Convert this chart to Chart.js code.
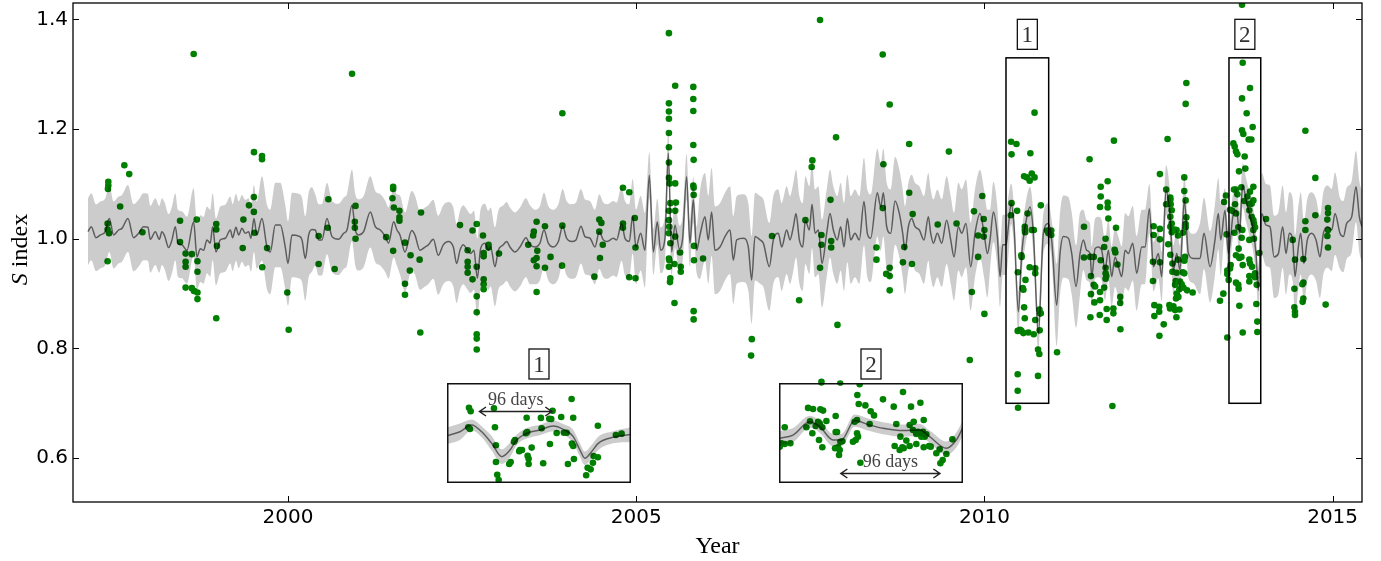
<!DOCTYPE html>
<html>
<head>
<meta charset="utf-8">
<script src="https://cdn.jsdelivr.net/npm/chart.js@4.4.1/dist/chart.umd.min.js"></script>
<style>
  html, body { margin: 0; padding: 0; background: #fff; }
  #wrap { position: relative; width: 1381px; height: 561px; }
  #main { position: absolute; left: 0; top: 0; }
  .inset { position: absolute; background: #fff; }
</style>
</head>
<body>
<div id="wrap">
  <canvas id="main" width="1381" height="561"></canvas>
  <canvas id="inset1" class="inset" width="184" height="100" style="left:447px;top:383px"></canvas>
  <canvas id="inset2" class="inset" width="184" height="100" style="left:779px;top:383px"></canvas>
</div>
<script>
// ---- axes ----
const xTicks = [2000, 2005, 2010, 2015];
const yTicks = [0.6, 0.8, 1.0, 1.2, 1.4];
const xRange = [1996.913, 2015.422];
const yRange = [0.520, 1.430];

// ---- S-index observations, [year, S] ----
const obs1997to2000 = [
  [1998.646,1.337],[1999.512,1.158],[1999.627,1.151],[1999.627,1.145],[1997.650,1.134],[1997.720,1.118],
  [1997.420,1.104],[1997.420,1.097],[1997.415,1.091],[1999.510,1.076],[1997.590,1.059],[1999.440,1.061],
  [1999.510,1.049],[1998.450,1.033],[1998.690,1.035],[1999.360,1.035],[1997.410,1.028],[1997.410,1.017],
  [1997.430,1.010],[1998.970,1.027],[1998.970,1.017],[1997.910,1.012],[1999.520,1.011],[1998.450,0.994],
  [1998.980,0.987],[1999.350,0.983],[1999.700,0.983],[1998.530,0.973],[1998.620,0.972],[1998.530,0.958],
  [1998.530,0.949],[1998.700,0.959],[1997.410,0.959],[1999.630,0.948],[1998.700,0.940],[1998.530,0.911],
  [1998.620,0.910],[1998.650,0.905],[1998.700,0.902],[1998.700,0.890],[1998.970,0.855],[1999.990,0.902],
  [2000.010,0.834]
];
const obs2000to2003 = [
  [2000.920,1.301],[2001.510,1.095],[2001.510,1.091],[2000.580,1.072],[2001.500,1.074],[2000.970,1.060],
  [2001.520,1.057],[2001.600,1.051],[2001.910,1.048],[2001.600,1.039],[2001.600,1.033],[2000.960,1.031],
  [2000.960,1.020],[2002.470,1.025],[2000.570,1.020],[2002.650,1.015],[2002.710,1.027],[2000.440,1.005],
  [2000.970,1.000],[2001.410,1.003],[2002.800,1.006],[2001.680,0.993],[2002.880,0.989],[2002.880,0.984],
  [2001.510,0.978],[2002.580,0.979],[2002.810,0.974],[2002.810,0.968],[2003.030,0.973],[2001.760,0.970],
  [2001.890,0.962],[2002.580,0.958],[2002.580,0.949],[2002.580,0.938],[2000.440,0.954],[2002.710,0.949],
  [2000.670,0.945],[2001.750,0.942],[2002.650,0.926],[2002.810,0.926],[2002.810,0.917],[2002.810,0.908],
  [2001.680,0.918],[2001.680,0.898],[2002.710,0.895],[2002.710,0.866],[2001.900,0.829],[2002.710,0.826],
  [2002.710,0.818],[2002.710,0.798],[2003.450,0.989]
];
const obs2003to2007 = [
  [2005.470,1.375],[2003.940,1.229],[2005.560,1.279],[2005.820,1.277],[2005.820,1.255],[2005.820,1.233],
  [2005.470,1.247],[2005.470,1.232],[2005.470,1.219],[2005.470,1.193],[2005.470,1.167],[2005.470,1.139],
  [2005.820,1.171],[2005.825,1.144],[2004.810,1.093],[2004.900,1.085],[2005.470,1.111],[2005.480,1.101],
  [2005.560,1.101],[2005.820,1.097],[2005.825,1.093],[2005.825,1.080],[2005.490,1.065],[2005.570,1.066],
  [2005.470,1.051],[2005.560,1.051],[2005.470,1.034],[2005.475,1.022],[2005.470,1.010],[2005.560,1.004],
  [2005.490,0.992],[2005.630,0.975],[2005.470,0.964],[2005.475,0.961],[2005.470,0.949],[2005.550,0.954],
  [2005.640,0.949],[2005.640,0.940],[2005.490,0.928],[2005.485,0.921],[2005.830,0.987],[2005.830,0.961],
  [2005.960,0.964],[2005.550,0.883],[2005.825,0.868],[2005.825,0.853],[2006.660,0.817],[2006.650,0.787],
  [2003.570,1.031],[2003.530,1.013],[2003.520,1.006],[2003.690,1.023],[2003.580,0.978],[2003.570,0.965],
  [2003.530,0.961],[2003.770,0.967],[2003.570,0.950],[2003.690,0.947],[2003.940,1.024],[2003.935,0.951],
  [2003.570,0.903],[2004.470,1.035],[2004.500,1.029],[2004.470,1.013],[2004.520,0.989],[2004.480,0.965],
  [2004.400,0.931],[2004.810,1.028],[2004.810,1.020],[2004.980,1.038],[2004.990,0.984],[2004.900,0.930],
  [2004.990,0.928]
];
const obs2007to2010 = [
  [2007.640,1.399],[2008.540,1.336],[2008.640,1.245],[2007.870,1.185],[2008.920,1.173],[2009.490,1.159],
  [2007.530,1.143],[2007.520,1.131],[2008.550,1.136],[2008.920,1.084],[2009.970,1.078],[2007.790,1.071],
  [2008.540,1.056],[2009.850,1.050],[2008.970,1.045],[2007.430,1.034],[2009.990,1.036],[2010.000,1.016],
  [2009.990,1.004],[2009.330,1.026],[2009.600,1.028],[2006.950,1.005],[2007.660,1.007],[2007.800,0.996],
  [2007.660,0.989],[2007.800,0.984],[2009.910,1.006],[2008.450,0.984],[2008.850,0.985],[2009.910,0.967],
  [2008.450,0.962],[2008.830,0.957],[2008.960,0.954],[2007.640,0.947],[2008.640,0.947],[2008.590,0.936],
  [2008.640,0.932],[2008.640,0.906],[2009.820,0.903],[2007.340,0.888],[2010.000,0.863],[2007.890,0.843],
  [2009.790,0.779],[2007.660,0.739],[2007.930,0.736]
];
const obs2010to2013 = [
  [2012.900,1.284],[2012.890,1.246],[2010.720,1.230],[2010.383,1.177],[2010.460,1.173],[2010.390,1.154],
  [2010.660,1.156],[2011.860,1.179],[2012.630,1.182],[2011.510,1.145],[2010.570,1.114],[2010.610,1.112],
  [2010.650,1.106],[2010.680,1.119],[2010.720,1.112],[2012.520,1.118],[2012.870,1.112],[2011.770,1.105],
  [2011.670,1.095],[2012.610,1.090],[2012.870,1.087],[2011.670,1.077],[2012.670,1.075],[2012.670,1.071],
  [2012.610,1.063],[2012.675,1.063],[2012.890,1.070],[2010.390,1.065],[2011.770,1.066],[2011.770,1.057],
  [2011.660,1.058],[2010.810,1.061],[2010.470,1.051],[2012.690,1.052],[2010.620,1.046],[2010.380,1.043],
  [2012.670,1.040],[2012.900,1.039],[2011.780,1.037],[2012.690,1.028],[2012.670,1.022],[2012.730,1.017],
  [2012.690,1.012],[2012.890,1.027],[2012.890,1.021],[2010.580,1.022],[2010.580,1.016],[2010.585,1.012],
  [2010.680,1.016],[2010.710,1.016],[2011.430,1.022],[2011.890,1.020],[2012.430,1.023],[2012.430,1.007],
  [2012.520,1.018],[2012.520,0.999],[2010.900,1.015],[2010.920,1.010],[2010.940,1.010],[2010.960,1.015],
  [2010.960,1.007],[2012.760,1.016],[2012.780,1.006],[2012.850,1.011],[2012.640,0.990],[2011.740,1.000],
  [2011.720,0.985],[2011.870,0.980],[2011.880,0.975],[2010.530,0.970],[2010.535,0.967],[2011.430,0.966],
  [2011.520,0.967],[2011.570,0.967],[2011.670,0.961],[2012.670,0.971],[2012.780,0.962],[2012.700,0.955],
  [2012.870,0.960],[2012.880,0.967],[2012.420,0.958],[2012.520,0.957],[2011.910,0.953],[2010.650,0.948],
  [2010.730,0.946],[2011.740,0.947],[2010.730,0.937],[2012.700,0.940],[2012.760,0.938],[2012.850,0.939],
  [2012.870,0.937],[2010.480,0.939],[2011.740,0.937],[2011.750,0.932],[2011.740,0.927],[2011.530,0.932],
  [2010.590,0.925],[2012.420,0.923],[2012.747,0.923],[2012.809,0.922],[2012.833,0.917],[2012.738,0.916],
  [2012.800,0.908],[2012.857,0.911],[2011.570,0.916],[2011.590,0.913],[2011.720,0.911],[2010.550,0.910],
  [2010.560,0.907],[2012.990,0.902],[2012.910,0.906],[2011.660,0.903],[2011.530,0.899],[2012.761,0.900],
  [2012.785,0.894],[2012.752,0.891],[2011.950,0.894],[2011.950,0.883],[2011.660,0.888],[2011.580,0.884],
  [2012.440,0.879],[2012.510,0.876],[2012.510,0.867],[2012.440,0.859],[2012.656,0.879],[2012.714,0.877],
  [2012.666,0.873],[2012.738,0.870],[2012.800,0.871],[2010.790,0.871],[2010.800,0.864],[2010.810,0.864],
  [2010.570,0.875],[2011.756,0.872],[2011.852,0.873],[2011.852,0.864],[2010.730,0.852],[2010.580,0.855],
  [2011.522,0.857],[2011.656,0.861],[2011.756,0.852],[2012.757,0.857],[2012.575,0.844],[2010.478,0.832],
  [2010.512,0.834],[2010.531,0.832],[2010.560,0.828],[2010.631,0.829],[2010.708,0.826],[2010.794,0.833],
  [2011.953,0.835],[2012.513,0.823],[2010.770,0.798],[2010.789,0.790],[2011.043,0.793],[2010.478,0.753],
  [2010.770,0.750],[2010.478,0.723],[2010.483,0.692],[2011.838,0.695]
];
const obs2013to2015 = [
  [2013.699,1.427],[2013.709,1.321],[2013.814,1.275],[2013.699,1.256],[2013.766,1.229],[2013.852,1.204],
  [2013.699,1.198],[2013.718,1.191],[2013.795,1.181],[2013.833,1.181],[2014.609,1.197],[2013.575,1.174],
  [2013.594,1.168],[2013.613,1.159],[2013.632,1.154],[2013.737,1.150],[2013.747,1.128],[2013.656,1.123],
  [2014.752,1.111],[2013.690,1.094],[2013.584,1.090],[2013.613,1.090],[2013.632,1.081],[2013.862,1.095],
  [2013.814,1.086],[2013.776,1.077],[2013.862,1.070],[2013.804,1.064],[2013.838,1.064],[2013.469,1.079],
  [2013.441,1.067],[2013.733,1.069],[2013.527,1.053],[2013.560,1.051],[2013.599,1.063],[2013.613,1.046],
  [2013.804,1.052],[2013.838,1.040],[2013.862,1.034],[2013.871,1.028],[2013.886,1.021],[2013.862,1.016],
  [2014.044,1.036],[2014.609,1.032],[2014.609,1.016],[2014.752,1.043],[2014.934,1.056],[2014.934,1.047],
  [2014.924,1.035],[2014.934,1.016],[2014.924,1.005],[2014.934,0.984],[2013.479,1.008],[2013.589,1.011],
  [2013.646,1.021],[2013.704,1.016],[2013.694,1.002],[2013.804,0.998],[2013.871,1.000],[2013.948,0.974],
  [2013.651,0.982],[2013.661,0.965],[2013.613,0.970],[2013.690,0.967],[2013.709,0.952],[2013.804,0.962],
  [2013.814,0.955],[2013.843,0.949],[2014.427,0.998],[2014.460,0.962],[2014.580,0.963],[2013.536,0.952],
  [2013.527,0.946],[2013.488,0.942],[2013.488,0.936],[2013.508,0.925],[2013.804,0.932],[2013.804,0.922],
  [2013.886,0.937],[2013.886,0.930],[2013.910,0.916],[2013.613,0.920],[2013.646,0.916],[2013.651,0.909],
  [2014.451,0.909],[2014.565,0.917],[2014.580,0.920],[2013.431,0.900],[2013.383,0.887],[2014.580,0.891],
  [2014.570,0.885],[2013.905,0.881],[2013.661,0.878],[2014.900,0.880],[2014.451,0.875],[2014.460,0.867],
  [2014.460,0.861],[2013.919,0.849],[2013.919,0.830],[2013.709,0.829],[2013.488,0.820]
];

// ---- Gaussian-process mean prediction, [year, S] ----
const meanCurve = [
  [1997.128,1.013],[1997.176,1.022],[1997.243,1.002],[1997.305,1.007],[1997.377,1.013],[1997.434,1.037],
  [1997.496,1.007],[1997.568,1.016],[1997.616,1.019],[1997.702,1.037],[1997.783,1.002],[1997.855,1.010],
  [1997.927,1.022],[1997.989,1.021],[1998.023,0.999],[1998.095,1.013],[1998.152,0.999],[1998.190,1.013],
  [1998.229,1.005],[1998.286,0.984],[1998.334,0.998],[1998.382,1.022],[1998.420,0.992],[1998.477,0.989],
  [1998.549,0.979],[1998.645,1.031],[1998.693,0.967],[1998.741,0.982],[1998.789,0.979],[1998.836,0.998],
  [1998.884,0.992],[1998.918,1.022],[1998.966,0.976],[1999.028,0.998],[1999.100,1.001],[1999.172,1.016],
  [1999.205,1.002],[1999.253,1.021],[1999.291,1.007],[1999.339,1.019],[1999.387,1.010],[1999.435,1.013],
  [1999.468,1.001],[1999.511,1.037],[1999.554,1.007],[1999.626,1.037],[1999.698,0.985],[1999.746,0.976],
  [1999.818,1.025],[1999.890,1.025],[1999.961,0.985],[2000.000,0.955],[2000.057,1.007],[2000.153,1.005],
  [2000.201,0.998],[2000.249,0.964],[2000.297,1.007],[2000.344,1.017],[2000.392,1.016],[2000.440,0.998],
  [2000.488,0.998],[2000.560,1.037],[2000.632,1.004],[2000.727,0.999],[2000.799,1.010],[2000.847,1.016],
  [2000.919,1.061],[2000.967,1.016],[2001.014,1.007],[2001.086,1.013],[2001.182,1.049],[2001.254,1.022],
  [2001.326,1.016],[2001.398,1.004],[2001.445,0.992],[2001.517,1.031],[2001.565,1.016],
  [2001.608,1.007],[2001.680,0.976],[2001.776,1.015],[2001.823,1.007],[2001.895,0.979],[2001.967,0.985],
  [2002.015,0.989],[2002.087,0.999],[2002.158,0.970],[2002.230,0.989],[2002.302,0.995],[2002.374,0.985],
  [2002.422,0.955],[2002.470,0.979],[2002.517,0.989],[2002.565,0.982],[2002.623,0.973],[2002.671,0.979],
  [2002.718,0.928],[2002.766,0.982],[2002.828,0.992],[2002.876,0.979],[2002.910,0.985],[2002.972,0.949],
  [2003.020,0.979],[2003.092,0.989],[2003.140,0.995],[2003.188,0.985],[2003.259,0.976],[2003.331,0.985],
  [2003.417,1.002],[2003.475,0.989],[2003.547,0.985],[2003.618,0.992],[2003.676,1.016],[2003.738,0.992],
  [2003.810,0.985],[2003.882,0.995],[2003.944,1.023],[2004.001,1.001],[2004.073,0.995],[2004.135,0.998],
  [2004.207,1.023],[2004.265,1.004],[2004.336,1.001],[2004.408,0.985],[2004.470,1.013],[2004.528,0.998],
  [2004.585,0.995],[2004.671,1.001],[2004.719,0.998],[2004.791,1.028],[2004.839,1.001],[2004.901,0.995],
  [2004.949,1.041],[2004.997,0.985],[2005.064,1.010],[2005.126,0.979],[2005.188,1.116],[2005.246,0.976],
  [2005.303,1.031],[2005.351,0.979],[2005.413,1.001],[2005.461,1.156],[2005.509,0.976],[2005.557,1.025],
  [2005.619,0.982],[2005.667,1.001],[2005.724,1.113],[2005.772,0.992],[2005.820,1.071],[2005.868,0.979],
  [2005.916,1.007],[2005.988,1.040],[2006.035,0.998],[2006.083,1.049],[2006.131,0.979],[2006.203,0.985],
  [2006.275,1.004],[2006.347,1.016],[2006.395,0.961],[2006.443,0.998],[2006.538,1.001],[2006.610,0.985],
  [2006.658,0.925],[2006.706,1.004],
  [2006.778,0.998],[2006.826,0.992],[2006.912,0.949],[2006.969,0.998],[2007.041,1.010],[2007.089,0.985],
  [2007.161,1.016],[2007.209,0.998],[2007.257,1.022],[2007.295,1.046],[2007.343,0.998],[2007.391,0.985],
  [2007.429,1.034],[2007.486,1.016],[2007.525,1.063],[2007.568,1.010],[2007.616,1.016],[2007.668,0.955],
  [2007.735,1.010],[2007.783,1.046],[2007.831,1.016],[2007.888,0.998],[2007.936,1.022],[2007.984,0.985],
  [2008.032,1.037],[2008.080,0.998],[2008.142,1.010],[2008.204,0.998],[2008.271,1.068],[2008.319,1.010],
  [2008.367,1.001],[2008.463,1.084],[2008.511,1.058],[2008.549,1.084],[2008.597,1.022],[2008.654,1.010],
  [2008.717,1.069],[2008.779,1.046],[2008.827,1.010],[2008.860,0.979],[2008.908,1.022],[2008.956,1.037],
  [2009.004,1.022],[2009.066,1.016],[2009.133,0.998],[2009.195,1.040],[2009.229,1.010],[2009.267,0.992],
  [2009.324,1.010],[2009.387,0.992],[2009.458,1.034],[2009.516,0.998],[2009.564,0.967],[2009.626,1.022],
  [2009.674,1.010],[2009.736,1.028],[2009.803,0.949],[2009.865,1.010],[2009.937,1.046],[2009.995,1.010],
  [2010.043,0.973],
  [2010.081,0.998],[2010.129,1.049],[2010.186,1.004],[2010.225,0.931],[2010.263,0.989],[2010.311,0.989],
  [2010.344,1.022],[2010.383,1.064],[2010.426,1.022],[2010.488,0.867],[2010.536,0.973],[2010.584,1.022],
  [2010.655,1.058],[2010.703,1.010],[2010.775,0.827],[2010.847,1.010],[2010.919,1.028],[2010.966,0.998],
  [2011.038,0.879],[2011.086,0.973],[2011.134,1.004],[2011.206,1.001],[2011.254,0.973],[2011.316,0.913],
  [2011.373,0.973],[2011.421,0.998],[2011.469,0.979],[2011.517,0.973],[2011.541,0.931],[2011.589,0.982],
  [2011.637,0.985],[2011.684,0.979],[2011.732,0.943],[2011.780,0.979],[2011.828,0.931],[2011.876,0.967],
  [2011.924,0.949],[2011.972,0.931],[2012.020,0.979],[2012.067,0.973],[2012.130,0.992],[2012.187,0.937],
  [2012.259,0.985],[2012.307,0.985],[2012.369,1.055],[2012.427,0.949],[2012.498,0.973],[2012.546,0.931],
  [2012.608,1.089],[2012.666,1.040],[2012.714,0.943],[2012.761,0.973],[2012.809,0.943],[2012.871,1.071],
  [2012.929,0.973],[2013.001,0.964],
  [2013.096,0.964],[2013.153,1.010],[2013.240,0.949],[2013.311,0.998],[2013.359,1.046],[2013.393,0.998],
  [2013.455,1.052],[2013.503,0.973],[2013.575,1.046],[2013.623,1.052],[2013.661,1.010],[2013.709,1.098],
  [2013.757,1.071],[2013.804,1.046],[2013.852,1.022],[2013.900,0.973],[2013.934,0.906],[2013.981,1.046],
  [2014.044,1.025],[2014.101,1.022],[2014.159,0.967],[2014.221,0.973],[2014.283,1.022],[2014.331,0.973],
  [2014.379,1.010],[2014.427,0.998],[2014.460,0.931],[2014.508,0.985],[2014.542,1.010],[2014.589,0.955],
  [2014.637,0.998],[2014.699,1.010],[2014.762,0.998],[2014.819,0.967],[2014.867,1.010],[2014.929,1.022],
  [2014.987,1.016],[2015.035,1.046],[2015.106,1.010],[2015.154,1.004],[2015.202,1.028],[2015.274,1.040],
  [2015.336,1.095],[2015.384,1.040],[2015.422,1.022]
];

// ---- 2-sigma half-width of the prediction band, [from year, half-width] ----
const bandHalfWidth = [
  [1996.9,0.061],[1999.6,0.077],[2000.35,0.065],[2001.6,0.072],[2003.5,0.068],[2005.15,0.042],
  [2005.88,0.080],[2010.08,0.055],[2010.35,0.037],[2010.97,0.075],[2011.4,0.055],[2012.0,0.068],
  [2012.35,0.045],[2013.05,0.065],[2013.42,0.040],[2013.95,0.075],[2015.1,0.065]
];

// ---- highlighted seasons ----
const regionLabels = ['1', '2'];
const regionYears = [[2010.310, 2010.923], [2013.512, 2013.968]];
const regionS = [0.700, 1.330];

// ---- zoomed views: [days, S] ----
const insetS = [0.700, 1.330];
const inset1Days = 241;
const inset1Curve = [
  [0.0,0.998],[17.0,1.023],[32.3,1.065],[45.4,1.023],[58.5,0.950],[71.6,0.866],[82.5,0.908],[91.2,0.971],
  [104.3,1.013],[121.7,1.034],[139.2,1.059],[152.3,1.038],[165.4,0.992],[174.1,0.908],[180.6,0.856],
  [189.3,0.897],[198.1,0.950],[217.7,0.988],[241.0,1.005]
];
const inset1Band = [[0,0.052],[20,0.035],[55,0.046],[90,0.033],[165,0.042],[200,0.038],[225,0.046]];
const inset1Obs = [
  [28.8,1.174],[31.0,1.152],[61.5,1.171],[163.2,1.229],[138.3,1.155],[104.3,1.111],[123.0,1.110],
  [133.9,1.105],[136.5,1.103],[149.6,1.116],[165.3,1.111],[197.6,1.061],[27.9,1.051],[30.1,1.040],
  [62.8,1.051],[123.9,1.045],[105.1,1.021],[103.4,1.013],[143.6,1.015],[153.1,1.017],[156.7,1.017],
  [221.2,1.002],[228.7,1.011],[89.0,0.971],[87.7,0.960],[134.8,0.946],[163.6,0.948],[165.3,0.933],
  [64.1,0.938],[110.9,0.923],[95.5,0.908],[98.2,0.908],[94.6,0.900],[105.6,0.872],[106.9,0.853],
  [192.0,0.870],[197.6,0.862],[166.2,0.851],[64.1,0.832],[83.4,0.832],[81.5,0.820],[106.9,0.820],
  [126.0,0.824],[158.4,0.820],[191.1,0.828],[184.2,0.796],[188.1,0.786],[182.3,0.749],[65.8,0.752],
  [67.7,0.719]
];
const inset1Arrow = { from: 41.9, to: 137.9, at: 1.154, label: '96 days' };

const inset2Days = 176.6;
const inset2Curve = [
  [0.0,0.982],[13.5,1.002],[29.5,1.086],[39.1,1.055],[51.9,0.971],[59.9,0.971],[72.6,1.093],[87.0,1.065],
  [99.8,1.045],[119.0,1.030],[135.0,1.034],[144.6,0.992],[160.6,0.919],[170.2,0.971],[176.6,1.050]
];
const inset2Band = [[0,0.045],[15,0.038],[155,0.042],[170,0.047]];
const inset2Obs = [
  [40.7,1.334],[58.9,1.333],[77.4,1.322],[75.2,1.254],[119.0,1.273],[99.8,1.227],[110.1,1.181],
  [126.7,1.181],[135.7,1.206],[76.5,1.198],[82.9,1.189],[27.9,1.173],[32.7,1.166],[39.7,1.164],
  [42.3,1.156],[88.0,1.152],[91.2,1.126],[54.4,1.122],[29.8,1.089],[37.5,1.086],[39.1,1.076],
  [45.5,1.091],[74.9,1.097],[72.6,1.086],[112.6,1.072],[129.3,1.086],[138.9,1.097],[125.4,1.065],
  [26.3,1.051],[35.2,1.059],[41.6,1.051],[87.0,1.072],[5.5,1.051],[32.0,1.013],[54.4,1.021],
  [55.7,1.021],[116.5,0.992],[131.8,1.009],[128.6,1.034],[133.4,1.023],[135.7,1.009],[138.2,1.023],
  [141.4,1.007],[139.8,0.992],[136.6,0.992],[58.9,0.960],[60.8,0.963],[71.0,0.960],[73.6,0.971],
  [75.8,0.992],[74.9,1.013],[38.4,0.971],[122.2,0.967],[131.8,0.946],[144.0,0.933],[2.3,0.950],
  [5.5,0.946],[10.9,0.950],[0.7,0.929],[41.6,0.925],[53.8,0.919],[56.7,0.925],[58.3,0.908],
  [111.0,0.933],[118.4,0.925],[125.4,0.933],[138.9,0.925],[145.6,0.929],[154.2,0.912],[115.8,0.908],
  [119.7,0.919],[57.6,0.876],[151.0,0.887],[160.6,0.883],[78.1,0.828],[157.1,0.845],[154.9,0.824],
  [166.4,0.975]
];
const inset2Arrow = { from: 58.9, to: 154.9, at: 0.765, label: '96 days' };

// ---- helpers ----
const toXY = pairs => pairs.map(([x, y]) => ({ x, y }));
function halfWidthAt(knots, x) {
  let w = knots[0][1];
  for (const [k, v] of knots) if (x >= k) w = v;
  return w;
}
const bandEdge = (curve, knots, sign) =>
  curve.map(([x, y]) => ({ x, y: y + sign * halfWidthAt(knots, x) }));

const GREEN = '#008000';
const BAND = 'rgba(0,0,0,0.2)';
const MEAN = 'rgba(0,0,0,0.55)';
const SERIF = '"Liberation Serif", "DejaVu Serif", serif';

function layerDatasets(curve, knots, obs, radius, lineW) {
  return [
    { type: 'line', data: bandEdge(curve, knots, 1), borderColor: 'rgba(0,0,0,0)', pointRadius: 0,
      fill: '+1', backgroundColor: BAND, cubicInterpolationMode: 'monotone', order: 2 },
    { type: 'line', data: bandEdge(curve, knots, -1), borderColor: 'rgba(0,0,0,0)', pointRadius: 0,
      fill: false, cubicInterpolationMode: 'monotone', order: 2 },
    { type: 'line', data: toXY(curve), borderColor: MEAN, borderWidth: lineW, pointRadius: 0,
      fill: false, cubicInterpolationMode: 'monotone', order: 1 },
    { type: 'scatter', data: toXY(obs), pointRadius: radius, pointHoverRadius: radius,
      backgroundColor: GREEN, borderWidth: 0, order: 3 }
  ];
}

function labelBox(ctx, text, cx, bottom) {
  const w = 20, h = 30;
  ctx.fillStyle = '#fff';
  ctx.fillRect(cx - w / 2, bottom - h, w, h);
  ctx.strokeStyle = '#111';
  ctx.lineWidth = 1.3;
  ctx.strokeRect(cx - w / 2, bottom - h, w, h);
  ctx.fillStyle = '#333';
  ctx.font = '23px ' + SERIF;
  ctx.textAlign = 'center';
  ctx.textBaseline = 'alphabetic';
  ctx.fillText(text, cx, bottom - 7);
}

// ---- frame, ticks, season boxes, titles ----
const decor = {
  id: 'decor',
  afterDatasetsDraw(chart) {
    const { ctx, chartArea: a, scales: { x, y } } = chart;
    ctx.save();
    ctx.strokeStyle = '#000';
    ctx.lineWidth = 1;
    ctx.beginPath();
    xTicks.forEach(v => {
      const p = Math.round(x.getPixelForValue(v)) + 0.5;
      ctx.moveTo(p, a.bottom); ctx.lineTo(p, a.bottom - 6);
      ctx.moveTo(p, a.top); ctx.lineTo(p, a.top + 6);
    });
    yTicks.forEach(v => {
      const p = Math.round(y.getPixelForValue(v)) + 0.5;
      ctx.moveTo(a.left, p); ctx.lineTo(a.left + 6, p);
      ctx.moveTo(a.right, p); ctx.lineTo(a.right - 6, p);
    });
    ctx.stroke();
    ctx.lineWidth = 1.3;
    ctx.strokeRect(a.left, a.top, a.right - a.left, a.bottom - a.top);

    // highlighted seasons
    regionYears.forEach(([x0, x1], i) => {
      const l = x.getPixelForValue(x0), r = x.getPixelForValue(x1);
      const t = y.getPixelForValue(regionS[1]), b = y.getPixelForValue(regionS[0]);
      ctx.strokeStyle = '#000';
      ctx.lineWidth = 1.5;
      ctx.strokeRect(l, t, r - l, b - t);
      labelBox(ctx, regionLabels[i], (l + r) / 2, t - 8.5);
    });

    // labels over the zoomed views
    ['inset1', 'inset2'].forEach((id, i) => {
      const el = document.getElementById(id);
      labelBox(ctx, regionLabels[i], el.offsetLeft + el.width / 2, el.offsetTop - 4);
    });

    // axis titles
    ctx.fillStyle = '#000';
    ctx.textBaseline = 'alphabetic';
    ctx.textAlign = 'center';
    ctx.font = '24px ' + SERIF;
    ctx.fillText('Year', (a.left + a.right) / 2, 553);

    ctx.save();
    ctx.translate(26.5, (a.top + a.bottom) / 2 - 3);
    ctx.rotate(-Math.PI / 2);
    const italic = 'italic 24px ' + SERIF, upright = '24px ' + SERIF;
    ctx.font = italic; const wS = ctx.measureText('S').width;
    ctx.font = upright; const wRest = ctx.measureText(' index').width;
    const start = -(wS + wRest) / 2;
    ctx.textAlign = 'left';
    ctx.font = italic; ctx.fillText('S', start, 0);
    ctx.font = upright; ctx.fillText(' index', start + wS, 0);
    ctx.restore();
    ctx.restore();
  }
};

// keep the plot frame fixed: no extra room reserved for end labels
const noEdgePadding = s => {
  s.paddingTop = 0; s.paddingBottom = 0; s.paddingLeft = 0; s.paddingRight = 0;
};

new Chart(document.getElementById('main'), {
  type: 'scatter',
  data: {
    datasets: layerDatasets(meanCurve, bandHalfWidth,
      [].concat(obs1997to2000, obs2000to2003, obs2003to2007, obs2007to2010, obs2010to2013, obs2013to2015),
      3.3, 1.5)
  },
  options: {
    responsive: false,
    animation: false,
    devicePixelRatio: 1,
    layout: { padding: { left: 0, right: 19, top: 3, bottom: 0 }, autoPadding: false },
    plugins: { legend: { display: false }, tooltip: { enabled: false } },
    scales: {
      x: {
        type: 'linear', min: xRange[0], max: xRange[1],
        grid: { display: false, drawTicks: false }, border: { display: false },
        afterBuildTicks: s => { s.ticks = xTicks.map(v => ({ value: v })); },
        afterFit: s => { s.height = 59; noEdgePadding(s); },
        ticks: { color: '#000', font: { family: 'DejaVu Sans', size: 20 }, padding: 4,
                 maxRotation: 0, autoSkip: false, callback: v => String(v) }
      },
      y: {
        type: 'linear', min: yRange[0], max: yRange[1],
        grid: { display: false, drawTicks: false }, border: { display: false },
        afterBuildTicks: s => { s.ticks = yTicks.map(v => ({ value: v })); },
        afterFit: s => { s.width = 73; noEdgePadding(s); },
        ticks: { color: '#000', font: { family: 'DejaVu Sans', size: 20 }, padding: 5,
                 autoSkip: false, callback: v => v.toFixed(1) }
      }
    }
  },
  plugins: [decor]
});

// ---- zoomed views ----
function insetDecor(arrow) {
  return {
    id: 'insetDecor',
    afterDatasetsDraw(chart) {
      const { ctx, scales: { x, y } } = chart;
      const xa = x.getPixelForValue(arrow.from), xb = x.getPixelForValue(arrow.to);
      const ya = Math.round(y.getPixelForValue(arrow.at)) + 0.5;
      ctx.save();
      ctx.strokeStyle = '#222';
      ctx.lineWidth = 1.5;
      ctx.beginPath();
      ctx.moveTo(xa, ya); ctx.lineTo(xb, ya);
      ctx.moveTo(xa + 7, ya - 4.5); ctx.lineTo(xa + 0.5, ya); ctx.lineTo(xa + 7, ya + 4.5);
      ctx.moveTo(xb - 7, ya - 4.5); ctx.lineTo(xb - 0.5, ya); ctx.lineTo(xb - 7, ya + 4.5);
      ctx.stroke();
      ctx.fillStyle = '#444';
      ctx.font = '18px ' + SERIF;
      ctx.textAlign = 'center';
      ctx.textBaseline = 'alphabetic';
      ctx.fillText(arrow.label, (xa + xb) / 2, ya - 7);
      ctx.strokeStyle = '#111';
      ctx.lineWidth = 1.5;
      ctx.strokeRect(0.75, 0.75, chart.width - 1.5, chart.height - 1.5);
      ctx.restore();
    }
  };
}

function makeInset(id, days, curve, knots, obs, arrow) {
  new Chart(document.getElementById(id), {
    type: 'scatter',
    data: { datasets: layerDatasets(curve, knots, obs, 3.3, 1.5) },
    options: {
      responsive: false,
      animation: false,
      devicePixelRatio: 1,
      layout: { padding: 0, autoPadding: false },
      plugins: { legend: { display: false }, tooltip: { enabled: false } },
      scales: {
        x: { type: 'linear', display: false, min: 0, max: days },
        y: { type: 'linear', display: false, min: insetS[0], max: insetS[1] }
      }
    },
    plugins: [insetDecor(arrow)]
  });
}
makeInset('inset1', inset1Days, inset1Curve, inset1Band, inset1Obs, inset1Arrow);
makeInset('inset2', inset2Days, inset2Curve, inset2Band, inset2Obs, inset2Arrow);
</script>
</body>
</html>
